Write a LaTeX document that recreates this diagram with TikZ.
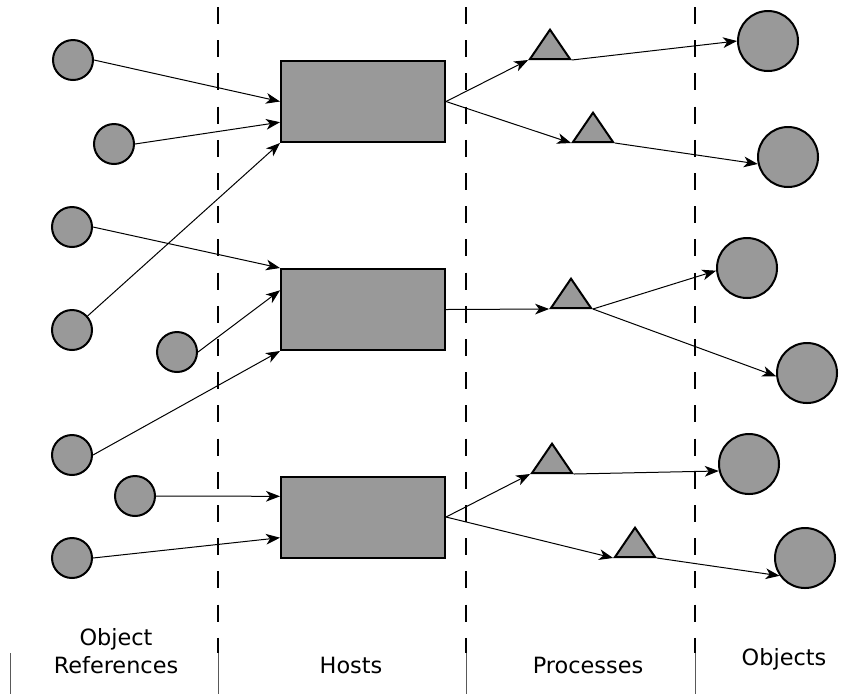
\documentclass[tikz,border=0pt]{standalone}
\usepackage{fontspec}
\setmainfont{DejaVu Sans}
\usetikzlibrary{arrows.meta,shapes.geometric}
\tikzset{
  ref/.style={circle, draw, line width=1.5pt, fill=black!40, minimum size=30pt, inner sep=0pt},
  obj/.style={circle, draw, line width=1.5pt, fill=black!40, minimum size=45pt, inner sep=0pt},
  host/.style={rectangle, draw, line width=1.5pt, fill=black!40, minimum width=123pt, minimum height=60.75pt, inner sep=0pt},
  proc/.style={isosceles triangle, isosceles triangle stretches, shape border rotate=90, draw, line width=1.5pt, fill=black!40, minimum width=30pt, minimum height=22pt, inner sep=0pt, anchor=lower side},
  link/.style={line width=0.75pt, -{Stealth[length=10.5pt, width=8pt, inset=3pt]}},
  lane/.style={line width=1.5pt, dash pattern=on 12.75pt off 12.15pt},
  sep/.style={line width=0.75pt, black!65},
  lbl/.style={font=\fontsize{16.8}{21}\selectfont, inner sep=0pt}
}

\begin{document}
\begin{tikzpicture}[x=0.75pt, y=-0.75pt]
		%%%%% START %%%%%
		\useasboundingbox (0,0) rectangle (845,694);
		
		% lanes
		\draw[lane] (218,7) -- (218,653);
		\draw[lane] (466,7) -- (466,653);
		\draw[lane] (695,7) -- (695,653);
		\draw[sep] (10,653) -- (10,694);
		\draw[sep] (218,653) -- (218,694);
		\draw[sep] (466,653) -- (466,694);
		\draw[sep] (695,653) -- (695,694);
		
		% object references
		\node[ref] (c1) at (73,60) {};
		\node[ref] (c2) at (114,144) {};
		\node[ref] (c3) at (72,227) {};
		\node[ref] (c4) at (72,330) {};
		\node[ref] (c5) at (177,352) {};
		\node[ref] (c6) at (72,455) {};
		\node[ref] (c7) at (135,496) {};
		\node[ref] (c8) at (72,558) {};
		
		% hosts
		\node[host] (host1) at (363,101.5) {};
		\node[host] (host2) at (363,309.5) {};
		\node[host] (host3) at (363,517) {};
		
		% processes
		\node[proc] (t1) at (550,60) {};
		\node[proc] (t2) at (593,143) {};
		\node[proc] (t3) at (571,309) {};
		\node[proc] (t4) at (552,474) {};
		\node[proc] (t5) at (635,558) {};
		
		% objects
		\node[obj] (o1) at (768,41) {};
		\node[obj] (o2) at (788,157) {};
		\node[obj] (o3) at (747,268) {};
		\node[obj] (o4) at (807,373) {};
		\node[obj] (o5) at (749,464) {};
		\node[obj] (o6) at (805,558) {};
		
		\draw[link] (c1.east) -- (host1.west);
		\draw[link] (c2.east) -- (host1.194.5);
		\draw[link] (c4) -- (host1.south west);
		\draw[link] (c3.east) -- (host2.north west);
		\draw[link] (c5.east) -- (host2.167);
		\draw[link] (c6.east) -- (host2.south west);
		\draw[link] (c7.east) -- (host3.166);
		\draw[link] (c8.east) -- (host3.194);
		
		\draw[link] (host1.east) -- (t1.left corner);
		\draw[link] (host1.east) -- (t2.left corner);
		\draw[link] (host2.east) -- (t3.left corner);
		\draw[link] (host3.east) -- (t4.left corner);
		\draw[link] (host3.east) -- (t5.left corner);
		
		\draw[link] (t1.right corner) -- (o1.west);
		\draw[link] (t2.right corner) -- (o2.193);
		\draw[link] (t3.right corner) -- (o3.185);
		\draw[link] (t3.right corner) -- (o4.186);
		\draw[link] (t4.right corner) -- (o5.193);
		\draw[link] (t5.right corner) -- (o6.215);
		
		% labels
		\node[lbl, align=center, anchor=base] (lrefs) at (116,673) {Object\\References};
		\node[lbl, anchor=base] (lhosts) at (351,673) {Hosts};
		\node[lbl, anchor=base] (lprocs) at (588,673) {Processes};
		\node[lbl, anchor=base] (lobjs) at (784,665) {Objects};
		
		%%%%% END %%%%%
\end{tikzpicture}
\end{document}
